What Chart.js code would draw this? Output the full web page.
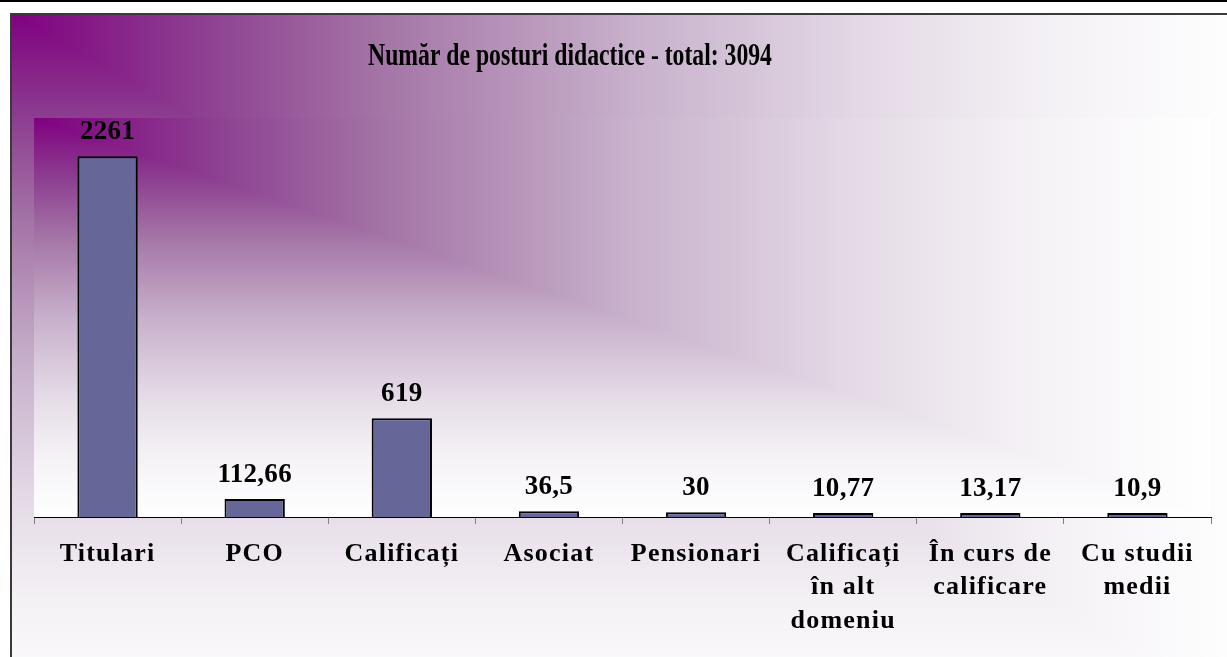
<!DOCTYPE html>
<html>
<head>
<meta charset="utf-8">
<script src="https://cdn.jsdelivr.net/npm/chart.js@4"></script>
<style>
  html, body { margin: 0; padding: 0; background: #fff; }
  canvas { display: block; }
</style>
</head>
<body>
<canvas id="chart" width="1227" height="657"></canvas>
<script>
const categories = [
  'Titulari', 'PCO', 'Calificați', 'Asociat', 'Pensionari',
  ['Calificați', 'în alt', 'domeniu'],
  ['În curs de', 'calificare'],
  ['Cu studii', 'medii']
];
const posturi = [2261, 112.66, 619, 36.5, 30, 10.77, 13.17, 10.9];
const titleText = 'Număr de posturi didactice - total: 3094';
const yMax = 2500;

// Romanian decimal comma for the bar labels
const valueLabels = posturi.map(v => String(v).replace('.', ','));

// Excel "from corner" fill: L-shaped contours, crease along the diagonal
function cornerFill(ctx, x, y, w, h) {
  const stops = [[0, '#800080'], [0.15, '#8c3e90'], [0.3, '#a475a6'], [0.5, '#c7b0cb'],
                 [0.7, '#e5dbe7'], [0.85, '#f5f2f6'], [1, '#ffffff']];
  const gx = ctx.createLinearGradient(x, 0, x + w, 0);
  const gy = ctx.createLinearGradient(0, y, 0, y + h);
  stops.forEach(([o, c]) => { gx.addColorStop(o, c); gy.addColorStop(o, c); });
  ctx.save();
  ctx.fillStyle = gx;
  ctx.fillRect(x, y, w, h);
  ctx.beginPath();
  ctx.moveTo(x, y);
  ctx.lineTo(x, y + h);
  ctx.lineTo(x + w, y + h);
  ctx.closePath();
  ctx.fillStyle = gy;
  ctx.fill();
  ctx.restore();
}

const backdrop = {
  id: 'backdrop',
  beforeDraw(chart) {
    const ctx = chart.ctx;
    const a = chart.chartArea;
    ctx.save();
    ctx.fillStyle = '#fff';
    ctx.fillRect(0, 0, chart.width, chart.height);
    cornerFill(ctx, 10, 13, 1240, 700);
    ctx.strokeStyle = '#3a3a3a';
    ctx.lineWidth = 2;
    ctx.strokeRect(11, 14, 1300, 800);
    ctx.fillStyle = '#000';
    ctx.fillRect(0, 0, chart.width, 2);
    cornerFill(ctx, a.left, a.top, a.right - a.left, a.bottom - a.top);
    ctx.restore();
    // wide spacing of the category labels
    ctx.letterSpacing = '1.2px';
  },
  beforeDatasetsDraw(chart) {
    chart.ctx.letterSpacing = '0px';
  },
  afterDatasetsDraw(chart) {
    const ctx = chart.ctx;
    const meta = chart.getDatasetMeta(0);
    ctx.save();
    ctx.font = 'bold 27px "Liberation Serif"';
    ctx.letterSpacing = '0.3px';
    ctx.fillStyle = '#000';
    ctx.textAlign = 'center';
    ctx.textBaseline = 'alphabetic';
    meta.data.forEach((bar, i) => ctx.fillText(valueLabels[i], bar.x, bar.y - 17));
    ctx.restore();
  },
  afterDraw(chart) {
    const ctx = chart.ctx;
    ctx.save();
    ctx.translate(570, 65);
    ctx.scale(0.74, 1);
    ctx.font = 'bold 32px "Liberation Serif"';
    ctx.fillStyle = '#000';
    ctx.textAlign = 'center';
    ctx.textBaseline = 'alphabetic';
    ctx.fillText(titleText, 0, 0);
    ctx.restore();
  }
};

new Chart(document.getElementById('chart'), {
  type: 'bar',
  data: {
    labels: categories,
    datasets: [{
      data: posturi,
      backgroundColor: '#666699',
      borderColor: '#000',
      borderWidth: 2,
      barPercentage: 0.41,
      categoryPercentage: 1,
      minBarLength: 4
    }]
  },
  options: {
    responsive: false,
    animation: false,
    devicePixelRatio: 1,
    layout: { padding: { left: 34, right: 16, top: 118, bottom: 0 } },
    plugins: {
      legend: { display: false },
      title: { display: false },
      tooltip: { enabled: false }
    },
    scales: {
      x: {
        grid: { offset: true, drawOnChartArea: false, tickLength: 7, color: '#808080', lineWidth: 1 },
        border: { display: true, color: '#000', width: 1 },
        ticks: {
          color: '#000',
          padding: 13,
          maxRotation: 0,
          autoSkip: false,
          font: { family: 'Liberation Serif', size: 26, weight: 'bold', lineHeight: 1.3 }
        },
        afterFit: s => { s.height = 140; }
      },
      y: { display: false, min: 0, max: yMax }
    }
  },
  plugins: [backdrop]
});
</script>
</body>
</html>
